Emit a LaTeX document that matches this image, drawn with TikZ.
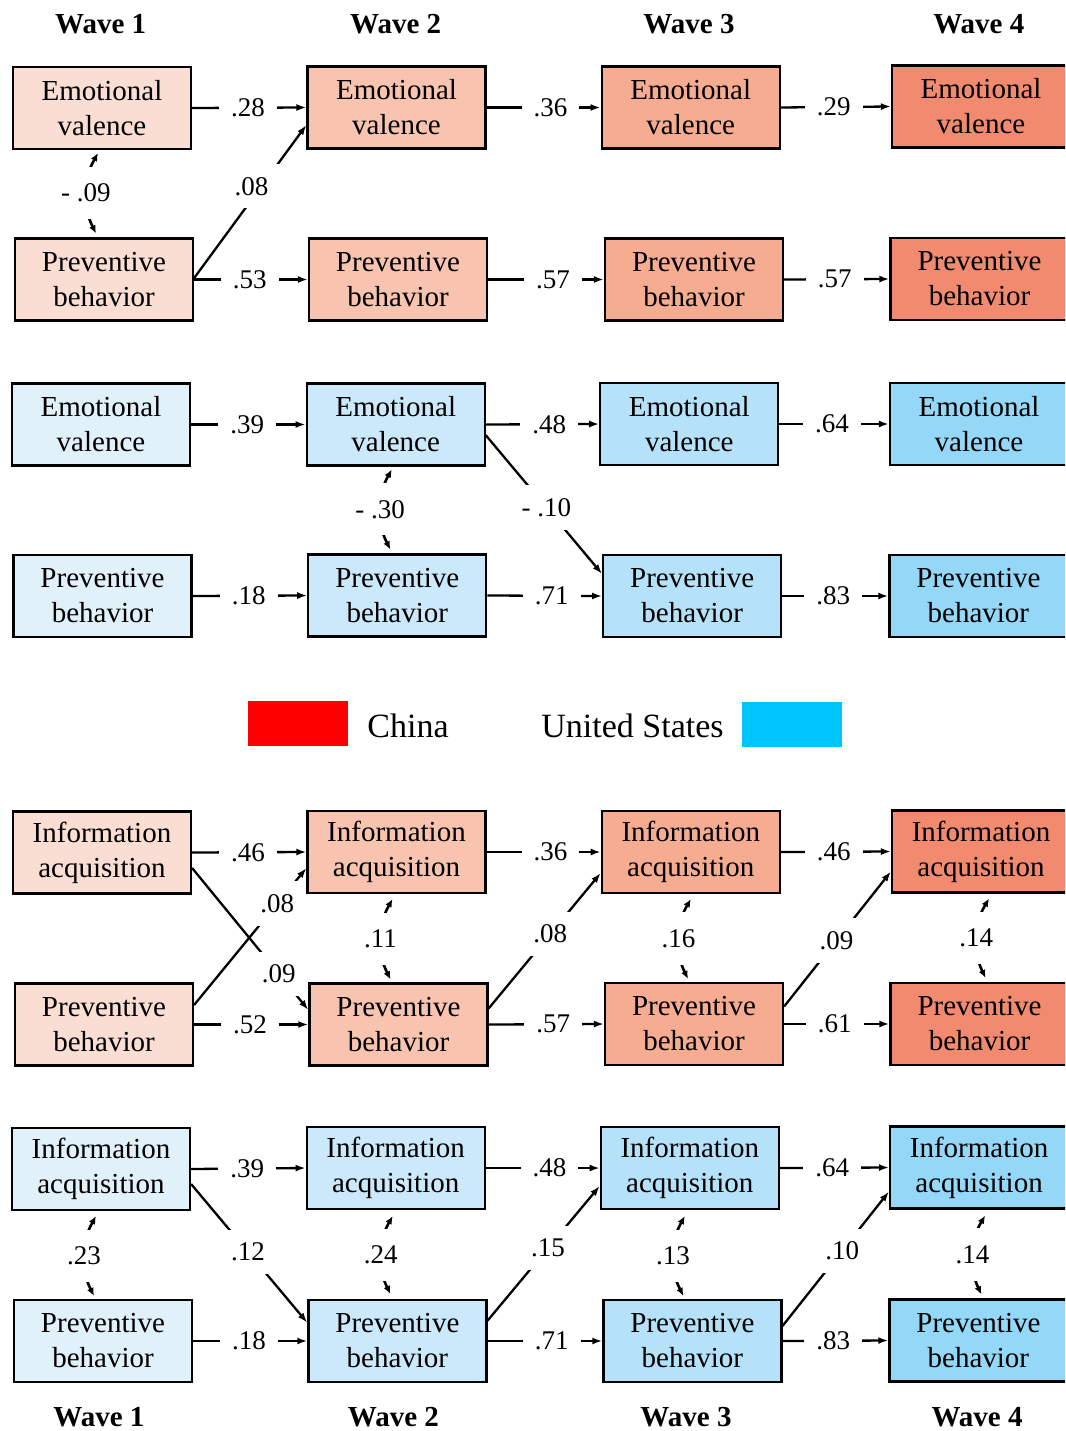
\documentclass[tikz,border=0pt]{standalone}
\usepackage{fontspec}
\setmainfont{Liberation Serif}
\usetikzlibrary{calc,arrows.meta}
\tikzset {>={Latex[length=10pt,width=7pt]}}
% shades, wave 1 to wave 4
\definecolor{cn1}{RGB}{251,222,211}
\definecolor{cn2}{RGB}{248,196,176}
\definecolor{cn3}{RGB}{246,172,145}
\definecolor{cn4}{RGB}{241,138,110}
\definecolor{us1}{RGB}{224,241,250}
\definecolor{us2}{RGB}{203,233,250}
\definecolor{us3}{RGB}{181,226,248}
\definecolor{us4}{RGB}{148,215,246}
\definecolor{cnred}{RGB}{255,0,0}
\definecolor{uscyan}{RGB}{0,196,255}
\newcommand*{\ev}{Emotional\\valence}
\newcommand*{\pb}{Preventive\\behavior}
\newcommand*{\ia}{Information\\acquisition}
\tikzset{
  box/.style={draw,line width=2.2pt,minimum width=178pt,minimum height=82pt,
    inner sep=0pt,align=center,font=\fontsize{29}{35}\selectfont},
  link/.style={->,line width=2.3pt},
  lbl/.style={fill=white,inner xsep=12pt,inner ysep=13pt,font=\fontsize{27}{30}\selectfont},
  cov/.style={<->,line width=2.6pt,>={Latex[length=8pt,width=7pt]}},
  clbl/.style={fill=white,inner xsep=6pt,inner ysep=17pt,font=\fontsize{27}{30}\selectfont},
  wave/.style={font=\fontsize{29}{30}\selectfont\bfseries},
  legbox/.style={minimum width=100pt,minimum height=45pt,inner sep=0pt},
  leg/.style={font=\fontsize{34}{40}\selectfont}
}

\begin{document}
\begin{tikzpicture}[x=1pt,y=1pt]
\useasboundingbox (0,0) rectangle (1065,-1431);
\clip (0,0) rectangle (1065,-1431);

% wave headings
\node[wave] (wt1) at (100.7,-24) {Wave 1};
\node[wave] (wt2) at (395.7,-24) {Wave 2};
\node[wave] (wt3) at (689,-24) {Wave 3};
\node[wave] (wt4) at (978.8,-24) {Wave 4};
\node[wave] (wb1) at (99,-1417) {Wave 1};
\node[wave] (wb2) at (393.4,-1417) {Wave 2};
\node[wave] (wb3) at (686,-1417) {Wave 3};
\node[wave] (wb4) at (977,-1417) {Wave 4};

% China, emotional valence
\node[box,fill=cn1] (ce1) at (102,-108) {\ev};
\node[box,fill=cn2] (ce2) at (396.5,-107.5) {\ev};
\node[box,fill=cn3] (ce3) at (690.7,-107.5) {\ev};
\node[box,fill=cn4] (ce4) at (981,-106.5) {\ev};
\node[box,fill=cn1] (cp1) at (104,-279.5) {\pb};
\node[box,fill=cn2] (cp2) at (398,-279.5) {\pb};
\node[box,fill=cn3] (cp3) at (694,-279.5) {\pb};
\node[box,fill=cn4] (cp4) at (979.5,-279) {\pb};

% United States, emotional valence
\node[box,fill=us1] (ue1) at (101,-424.5) {\ev};
\node[box,fill=us2] (ue2) at (395.7,-424.5) {\ev};
\node[box,fill=us3] (ue3) at (689.3,-424) {\ev};
\node[box,fill=us4] (ue4) at (979,-424) {\ev};
\node[box,fill=us1] (up1) at (102.5,-596) {\pb};
\node[box,fill=us2] (up2) at (397.3,-595.5) {\pb};
\node[box,fill=us3] (up3) at (692.2,-596) {\pb};
\node[box,fill=us4] (up4) at (978.4,-596) {\pb};

% legend
\node[legbox,fill=cnred] (chn) at (298,-723.5) {};
\node[leg] (chnt) at (408,-726) {China};
\node[leg] (usat) at (632.5,-726) {United States};
\node[legbox,fill=uscyan] (usa) at (792,-724.3) {};

% China, information acquisition
\node[box,fill=cn1] (ci1) at (102,-852.5) {\ia};
\node[box,fill=cn2] (ci2) at (396.5,-852) {\ia};
\node[box,fill=cn3] (ci3) at (690.8,-852) {\ia};
\node[box,fill=cn4] (ci4) at (981,-851.5) {\ia};
\node[box,fill=cn1] (cb1) at (104,-1024.5) {\pb};
\node[box,fill=cn2] (cb2) at (398.5,-1024.5) {\pb};
\node[box,fill=cn3] (cb3) at (694,-1024) {\pb};
\node[box,fill=cn4] (cb4) at (979.5,-1024) {\pb};

% United States, information acquisition
\node[box,fill=us1] (ui1) at (101,-1169) {\ia};
\node[box,fill=us2] (ui2) at (395.7,-1168) {\ia};
\node[box,fill=us3] (ui3) at (689.8,-1168) {\ia};
\node[box,fill=us4] (ui4) at (979.1,-1167.5) {\ia};
\node[box,fill=us1] (ub1) at (103,-1341) {\pb};
\node[box,fill=us2] (ub2) at (397.4,-1341) {\pb};
\node[box,fill=us3] (ub3) at (692.4,-1341) {\pb};
\node[box,fill=us4] (ub4) at (978.4,-1340.5) {\pb};

% stability paths
\foreach \r/\va/\vb/\vc in {ce/.28/.36/.29,cp/.53/.57/.57,ue/.39/.48/.64,up/.18/.71/.83,
    ci/.46/.36/.46,cb/.52/.57/.61,ui/.39/.48/.64,ub/.18/.71/.83} {
  \draw[link] (\r1.east) -- node[lbl,pos=.49] {\va} (\r2.west);
  \draw[link] (\r2.east) -- node[lbl,pos=.56] {\vb} (\r3.west);
  \draw[link] (\r3.east) -- node[lbl,pos=.48] {\vc} (\r4.west);
}

% cross-lagged paths
\draw[link] ($(cp1.east)+(0,1.4)$) -- node[lbl,pos=.6,xshift=-10pt] {.08} ($(ce2.west)+(0,-17.5)$);
\draw[link] ($(ue2.east)+(0,-10.7)$) -- node[lbl,pos=.52] {- .10} ($(up3.west)+(0,22)$);
\draw[link] ($(ci1.east)+(0,-15.5)$) -- node[lbl,pos=.745] {.09} ($(cb2.west)+(0,14.5)$);
\draw[link] ($(cb1.east)+(0,19.5)$) -- node[lbl,pos=.74] {.08} ($(ci2.west)+(0,-16)$);
\draw[link] ($(cb2.east)+(0,16)$) -- node[lbl,pos=.55] {.08} ($(ci3.west)+(0,-21)$);
\draw[link] ($(cb3.east)+(0,17.5)$) -- node[lbl,pos=.49] {.09} ($(ci4.west)+(0,-20)$);
\draw[link] ($(ui1.east)+(0,-15)$) -- node[lbl,pos=.49] {.12} ($(ub2.west)+(0,18.3)$);
\draw[link] ($(ub2.east)+(0,20.3)$) -- node[lbl,pos=.54] {.15} ($(ui3.west)+(0,-18)$);
\draw[link] ($(ub3.east)+(0,15)$) -- node[lbl,pos=.56] {.10} ($(ui4.west)+(0,-24)$);

% within-wave covariances
\draw[cov] ($(ce1.south)+(-4,-3)$) to[bend right=28] node[clbl] {- .09} ($(cp1.north)+(-8,4)$);
\draw[cov] ($(ue2.south)+(-4,-3)$) to[bend right=28] node[clbl] {- .30} ($(up2.north)+(-7,4)$);
\draw[cov] ($(ci2.south)+(-4,-5)$) to[bend right=28] node[clbl] {.11} ($(cb2.north)+(-8,3)$);
\draw[cov] ($(ci3.south)+(0,-5)$) to[bend right=28] node[clbl] {.16} ($(cb3.north)+(-6,3)$);
\draw[cov] ($(ci4.south)+(8,-5)$) to[bend right=28] node[clbl] {.14} ($(cb4.north)+(6,4)$);
\draw[cov] ($(ui1.south)+(-5,-5)$) to[bend right=28] node[clbl] {.23} ($(ub1.north)+(-9,3)$);
\draw[cov] ($(ui2.south)+(-3,-6)$) to[bend right=28] node[clbl] {.24} ($(ub2.north)+(-7,5)$);
\draw[cov] ($(ui3.south)+(-5,-6)$) to[bend right=28] node[clbl] {.13} ($(ub3.north)+(-9,3)$);
\draw[cov] ($(ui4.south)+(6,-6)$) to[bend right=28] node[clbl] {.14} ($(ub4.north)+(3,4)$);
\end{tikzpicture}
\end{document}
